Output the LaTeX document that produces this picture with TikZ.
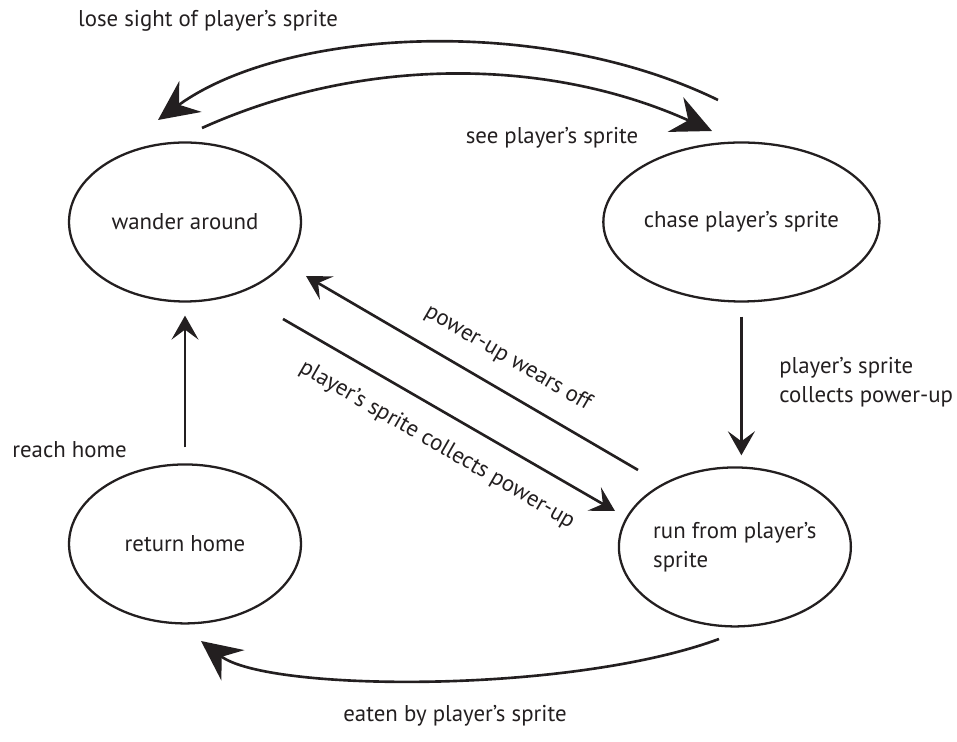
\documentclass[tikz,border=0pt]{standalone}
\usepackage{fontspec}
\setmainfont{PT Sans}
\usetikzlibrary{positioning, arrows.meta, shapes.geometric}
\definecolor{ink}{HTML}{231F20}
\tikzset{
  state/.style={draw=ink, line width=1.3pt, ellipse, minimum width=4.64cm, minimum height=3.18cm, inner sep=0pt, text=ink, align=center},
  bigarrow/.style={draw=ink, line width=1.5pt, -{Stealth[length=0.8cm, width=0.76cm, inset=0.28cm]}},
  smallarrow/.style={draw=ink, line width=1.5pt, -{Stealth[length=0.48cm, width=0.54cm, inset=0.2cm]}},
  lbl/.style={text=ink, inner sep=0pt}
}

\begin{document}
\begin{tikzpicture}[x=0.02cm, y=-0.02cm, on grid, font=\fontsize{13}{16.4}\selectfont]
	\useasboundingbox (0,0) rectangle (957,742);
	% states
	\draw node (wander)[state] at (185,222) {wander around};
	\draw node (chase)[state, right=11.13cm of wander] {chase player’s sprite};
	\draw node (home)[state, below=6.44cm of wander] {return home};
	\draw node (run)[state, right=11cm of home, align=left, yshift=-0.06cm] {run from player’s\\sprite};
	% free ends of the arrows
	\coordinate (loseA) at (718,100);
	\coordinate (loseB) at (158,120);
	\coordinate (seeA) at (202,128);
	\coordinate (seeB) at (712,131);
	\coordinate (eatA) at (719,639);
	\coordinate (eatB) at (201,641);
	\coordinate (wearA) at (638,470);
	\coordinate (wearB) at (306,276);
	\coordinate (collA) at (283,319);
	\coordinate (collB) at (615,511);
	% transitions
	\draw[bigarrow] (loseA) .. controls (542,14) and (285,28) .. (loseB);
	\draw[bigarrow] (seeA) .. controls (364,55) and (550,58) .. (seeB);
	\draw[bigarrow] (eatA) .. controls (570,694) and (268,692) .. (eatB);
	\draw[smallarrow, shorten <=0.28cm, shorten >=0.22cm] (chase.south) -- (chase.south |- run.north);
	\draw[smallarrow, shorten <=0.32cm, shorten >=0.26cm] (home.north) -- (wander.south);
	\draw[smallarrow] (wearA) -- (wearB);
	\draw[smallarrow] (collA) -- (collB);
	% labels
	\node[lbl, anchor=base] (loseL) at (208,27) {lose sight of player’s sprite};
	\node[lbl, anchor=base] (seeL) at (552,144) {see player’s sprite};
	\node[lbl, anchor=north west, align=left] (chaseL) at (779,357) {player’s sprite\\collects power-up};
	\node[lbl, anchor=base west] (homeL) at (12,458) {reach home};
	\node[lbl, anchor=base] (eatL) at (455,722) {eaten by player’s sprite};
	\node[lbl, rotate=-30.3] (wearL) at (508,358) {power-up wears off};
	\node[lbl, rotate=-30] (collL) at (437,445) {player’s sprite collects power-up};
\end{tikzpicture}
\end{document}
